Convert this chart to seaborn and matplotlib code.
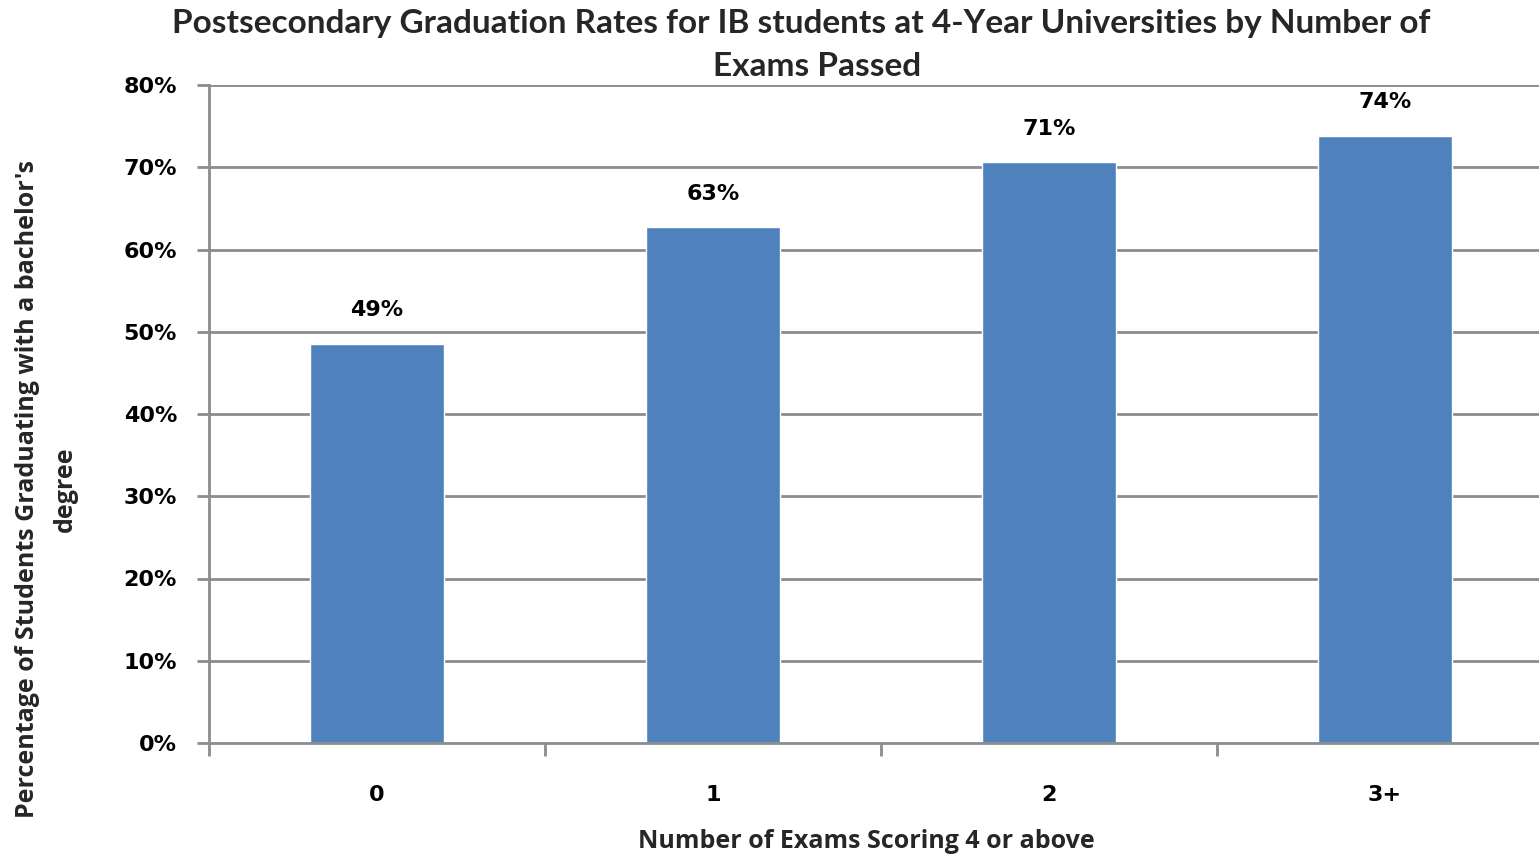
import matplotlib
matplotlib.use("Agg")
import matplotlib.pyplot as plt
import seaborn as sns
import pandas as pd

categories = ["0", "1", "2", "3+"]
values = [48.5, 62.7, 70.6, 73.8]
labels = ["49%", "63%", "71%", "74%"]
yticks = [0, 10, 20, 30, 40, 50, 60, 70, 80]

sns.set_theme(style="white")
plt.rcParams['font.family'] = ['Open Sans', 'DejaVu Sans']

df = pd.DataFrame({"cat": categories, "val": values})

fig = plt.figure(figsize=(15.39, 8.56), dpi=100)
ax = fig.add_axes([209/1539, 1-743/856, 1344/1539, (743-85)/856])

sns.barplot(data=df, x="cat", y="val", color="#4F81BD", saturation=1, width=0.4, ax=ax)

grid_c = "#8C8C8C"
num_font = dict(fontsize=16, fontweight="bold", color="black", family="DejaVu Sans")
ax.set_ylim(0, 80)
ax.set_xlim(-0.5, 3.5)
ax.set_yticks(yticks)
ax.set_yticklabels([f"{t}%" for t in yticks], **num_font)
for t in yticks[1:]:
    ax.axhline(t, color=grid_c, lw=2, zorder=0)
ax.set_xticks([0, 1, 2, 3])
ax.set_xticklabels(categories, **num_font)
ax.tick_params(axis="x", length=0, pad=30)
ax.tick_params(axis="y", length=9, width=2, color=grid_c, direction="out", left=True, pad=14)
ax.set_xticks([-0.5, 0.5, 1.5, 2.5], minor=True)
ax.tick_params(axis="x", which="minor", length=9, width=2, color=grid_c, direction="out", bottom=True)

for s in ["top", "right"]:
    ax.spines[s].set_visible(False)
for s in ["left", "bottom"]:
    ax.spines[s].set_color(grid_c)
    ax.spines[s].set_linewidth(2)

for i, (v, lab) in enumerate(zip(values, labels)):
    ax.text(i, v + 4.1, lab, ha="center", va="center", **num_font)

ax.set_xlabel("")
ax.set_ylabel("")
fig.text(866/1539, 1-841/856, "Number of Exams Scoring 4 or above", ha="center", va="center",
         fontsize=18, fontweight="bold")
fig.text(28/1539, 1-489/856, "Percentage of Students Graduating with a bachelor's", ha="center", va="center",
         rotation=90, fontsize=18, fontweight="bold")
fig.text(65/1539, 1-489/856, "degree", ha="center", va="center",
         rotation=90, fontsize=18, fontweight="bold")

fig.text(801/1539, 1-24/856, "Postsecondary Graduation Rates for IB students at 4-Year Universities by Number of",
         ha="center", va="center", fontsize=24, fontweight="bold", family="Lato")
fig.text(817/1539, 1-66/856, "Exams Passed",
         ha="center", va="center", fontsize=24, fontweight="bold", family="Lato")

fig.savefig("out.png", dpi=100)
